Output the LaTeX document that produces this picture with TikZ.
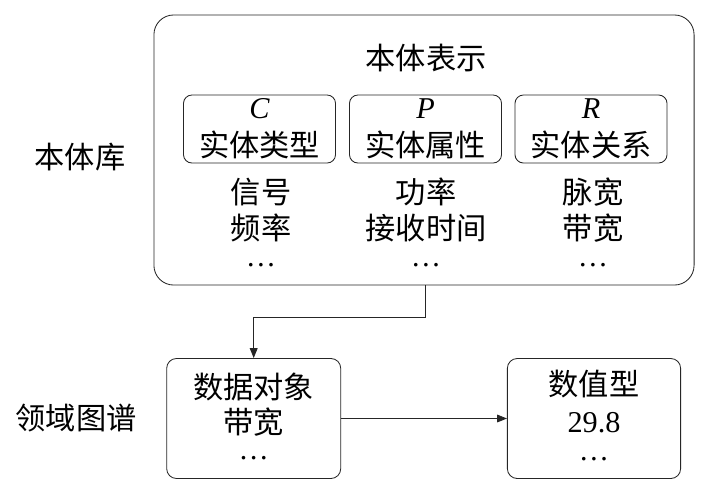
\documentclass[tikz,border=0pt]{standalone}
\usepackage{fontspec}
\setmainfont{Liberation Serif}
\newfontfamily\cjk{Noto Sans CJK SC}
\usetikzlibrary{arrows.meta}
\newcommand{\ent}[1]{{\rmfamily\itshape #1}}

\begin{document}
\begin{tikzpicture}[
        x=0.025cm, y=-0.025cm,
        every node/.append style={font=\cjk\fontsize{21.5}{27}\selectfont, inner sep=0.5pt},
        box/.style={draw=black!85, line width=0.6pt, rounded corners=7pt, inner sep=0pt, align=center},
        link/.style={draw=black!85, line width=0.6pt, -{Triangle[length=7pt,width=5.5pt]}}
    ]
        \useasboundingbox (0,0) rectangle (710,495);
        % ontology library
        \node[box, rounded corners=14pt, minimum width=13.5cm, minimum height=6.75cm] (onto) at (424,150) {};
        \node (title) at (426,58) {本体表示};
        \node[box, rounded corners=6pt, minimum width=3.8cm, minimum height=1.7cm] (cbox) at (259.5,129) {\ent{C}\\实体类型};
        \node[box, rounded corners=6pt, minimum width=3.8cm, minimum height=1.7cm] (pbox) at (425.5,129) {\ent{P}\\实体属性};
        \node[box, rounded corners=6pt, minimum width=3.8cm, minimum height=1.7cm] (rbox) at (591,129) {\ent{R}\\实体关系};
        \node (c1) at (261,192) {信号};
        \node (c2) at (261,228) {频率};
        \node (c3) at (261,265) {\rmfamily\dots};
        \node (p1) at (426,192) {功率};
        \node (p2) at (426,228) {接收时间};
        \node (p3) at (426,265) {\rmfamily\dots};
        \node (r1) at (593,192) {脉宽};
        \node (r2) at (593,228) {带宽};
        \node (r3) at (593,265) {\rmfamily\dots};
        \node (lib) at (80,157) {本体库};
        % domain graph
        \node (kg) at (76,418) {领域图谱};
        \node[box, minimum width=4.35cm, minimum height=3cm] (obj) at (253.7,418.5) {};
        \node (o1) at (253.7,387) {数据对象};
        \node (o2) at (253.7,422) {带宽};
        \node (o3) at (253.7,458) {\rmfamily\dots};
        \node[box, minimum width=4.33cm, minimum height=3cm] (val) at (594,418.5) {};
        \node (v1) at (594,384) {数值型};
        \node (v2) at (594,423) {\rmfamily 29.8};
        \node (v3) at (594,459) {\rmfamily\dots};
        \draw[link] (pbox |- onto.south) -- ++(0,32) -| (obj.north);
        \draw[link] (obj.east) -- (val.west);
    \end{tikzpicture}
\end{document}
